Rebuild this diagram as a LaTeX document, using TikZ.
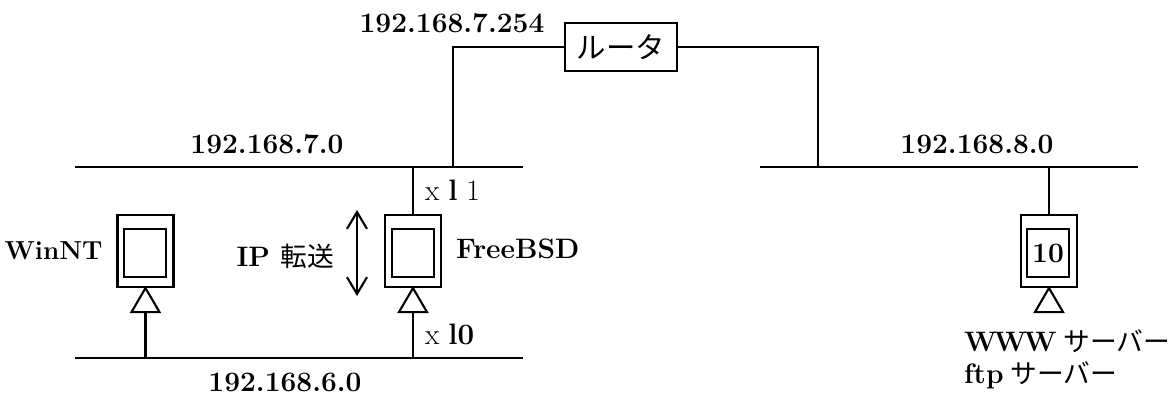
\documentclass[tikz,border=0pt]{standalone}
\usepackage{fontspec}
\newfontfamily\cjk[Scale=0.95]{Noto Sans CJK JP}
\usetikzlibrary{positioning,shapes.geometric,arrows.meta}
\begin{document}
\begin{tikzpicture}[x=0.025cm, y=-0.025cm, node distance=0.6cm, line width=1.5pt]
    \tikzstyle{pc} = [rectangle, draw=black, minimum width=1.4cm, minimum height=1.8cm, inner sep=0pt]
    \tikzstyle{screen} = [rectangle, draw=black, minimum width=1.05cm, minimum height=1.2cm, inner sep=0pt, font=\fontsize{20}{24}\selectfont\bfseries]
    \tikzstyle{port} = [isosceles triangle, isosceles triangle apex angle=60, isosceles triangle stretches, shape border rotate=90, draw=black, minimum width=0.7cm, minimum height=0.6cm, inner sep=0pt, outer sep=0pt, anchor=apex]
    \tikzstyle{caption} = [inner sep=0pt, font=\fontsize{20}{24}\selectfont\bfseries]
    \tikzstyle{portname} = [inner sep=0pt, anchor=west, font=\fontsize{21}{25}\selectfont]
    \tikzstyle{router} = [rectangle, draw=black, minimum width=2.8cm, minimum height=1.2cm, inner sep=0pt, font=\fontsize{22}{26}\selectfont\cjk]

    \useasboundingbox (0,0) rectangle (1173,396);

    % Network lines
    \coordinate (lan7_l) at (75,167);
    \coordinate (lan7_r) at (523,167);
    \coordinate (lan6_l) at (75,358);
    \coordinate (lan6_r) at (523,358);
    \coordinate (lan8_l) at (760,167);
    \coordinate (lan8_r) at (1138,167);
    \draw (lan7_l) -- (lan7_r);
    \draw (lan6_l) -- (lan6_r);
    \draw (lan8_l) -- (lan8_r);

    % Router
    \node [router] (router) at (621,47) {ルータ};
    \coordinate (router_l) at (453,167);
    \coordinate (router_r) at (818,167);
    \draw (router.west) -| (router_l);
    \draw (router.east) -| (router_r);
    \node [caption] (router_ip) at (452,23) {192.168.7.254};

    % Hosts
    \node [pc] (winnt) at (145.5,251) {};
    \node [screen] (winnt_scr) at (145,253) {};
    \node [port] (winnt_port) at (winnt.south) {};
    \node [pc] (freebsd) at (413,251) {};
    \node [screen] (freebsd_scr) at (413,253) {};
    \node [port] (freebsd_port) at (freebsd.south) {};
    \node [pc] (server) at (1049,251) {};
    \node [screen] (server_scr) at (1048,253) {10};
    \node [port] (server_port) at (server.south) {};

    % Connections
    \draw (winnt_port.lower side) -- (winnt_port.lower side |- lan6_l);
    \draw (freebsd_port.lower side) -- (freebsd_port.lower side |- lan6_l);
    \draw (freebsd.north) -- (freebsd.north |- lan7_l);
    \draw (server.north) -- (server.north |- lan8_l);

    % Forwarding arrow
    \coordinate (fwd_top) at (357,210);
    \coordinate (fwd_bot) at (357,296);
    \draw [{Straight Barb[length=0.42cm,width=0.5cm]}-{Straight Barb[length=0.42cm,width=0.5cm]}] (fwd_top) -- (fwd_bot);

    % Labels
    \node [caption] (lan7_txt) at (267,144) {192.168.7.0};
    \node [caption] (lan8_txt) at (977,144) {192.168.8.0};
    \node [caption] (lan6_txt) at (285,382) {192.168.6.0};
    \node [caption, left=0.32cm of winnt, font=\fontsize{18.5}{22}\selectfont\bfseries] (winnt_txt) {WinNT};
    \node [caption, anchor=west] (freebsd_txt) at (455,249) {FreeBSD};
    \node [caption, anchor=east] (fwd_txt) at (335,256) {IP {\cjk\mdseries 転送}};
    \node [portname] (xl1_txt) at (424,190) {x {\bfseries l} 1};
    \node [portname] (xl0_txt) at (424,334) {x {\bfseries l0}};
    \node [caption, anchor=west] (www_txt) at (963,341) {\spaceskip=5pt W\kern-2pt W\kern-2pt W {\cjk\mdseries サーバー}};
    \node [caption, anchor=west] (ftp_txt) at (963,375) {\spaceskip=5pt ftp {\cjk\mdseries サーバー}};
\end{tikzpicture}
\end{document}
